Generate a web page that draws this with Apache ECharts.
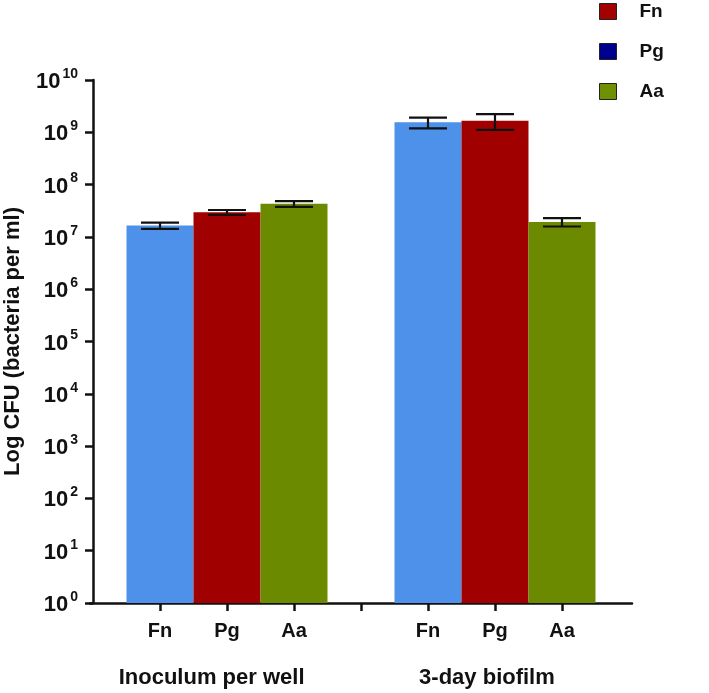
<!DOCTYPE html>
<html>
<head>
<meta charset="utf-8">
<script src="https://cdn.jsdelivr.net/npm/echarts@6/dist/echarts.min.js"></script>
<style>html,body{margin:0;padding:0;background:#fff}#chart{width:709px;height:693px}</style>
</head>
<body>
<div id="chart"></div>
<script>
// ---- data ----
var tickNames = ['Fn', 'Pg', 'Aa', '', 'Fn', 'Pg', 'Aa'];   // x positions 1..7
var groupNames = ['Inoculum per well', '3-day biofilm'];
var seriesNames = ['Fn', 'Pg', 'Aa'];
var fnPos = [1, 5], pgPos = [2, 6], aaPos = [3, 7];
var fnValues = [1.65e7, 1.55e9];
var pgValues = [2.95e7, 1.67e9];
var aaValues = [4.3e7, 1.93e7];
var fnErr = [0.22e7, 0.36e9];
var pgErr = [0.32e7, 0.56e9];
var aaErr = [0.55e7, 0.35e7];

var FONT = 'Liberation Sans, Arial, sans-serif';
var barColors = {Fn: '#4d91ea', Pg: '#a10000', Aa: '#6c8a00'};
var legendColors = {Fn: '#a30000', Pg: '#00008f', Aa: '#6f9000'};

function pairs(pos, vals) { return pos.map(function (p, i) { return [p, vals[i]]; }); }
function errPairs(pos, vals, errs) { return pos.map(function (p, i) { return [p, vals[i] - errs[i], vals[i] + errs[i]]; }); }

var errData = [].concat(errPairs(fnPos, fnValues, fnErr), errPairs(pgPos, pgValues, pgErr), errPairs(aaPos, aaValues, aaErr));

var chart = echarts.init(document.getElementById('chart'), null, {renderer: 'canvas'});
var xMin = -0.045, xMax = 8.045;
var option = {
  backgroundColor: '#fff',
  animation: false,
  textStyle: {fontFamily: FONT},
  grid: {left: 90, top: 80, right: 77, bottom: 90, containLabel: false, outerBoundsMode: 'none'},
  legend: {
    orient: 'vertical', left: 599, top: 2, padding: 0, itemWidth: 17, itemHeight: 16, itemGap: 21,
    icon: 'rect',
    textStyle: {fontSize: 19, fontWeight: 'bold', color: '#111', fontFamily: FONT, padding: [0, 0, 0, 18]},
    data: seriesNames.map(function (n) { return {name: n, itemStyle: {color: legendColors[n], borderColor: '#222', borderWidth: 1}}; })
  },
  xAxis: [{
    type: 'value', min: xMin, max: xMax,
    splitLine: {show: false},
    axisLine: {show: true, lineStyle: {color: '#111', width: 2.5}},
    axisTick: {show: true, length: 8, lineStyle: {color: '#111', width: 2.5}, customValues: [1, 2, 3, 4, 5, 6, 7]},
    axisLabel: {
      customValues: [1, 2, 3, 5, 6, 7], margin: 18, fontSize: 20, fontWeight: 'bold', color: '#111', fontFamily: FONT,
      formatter: function (v) { return tickNames[Math.round(v) - 1] || ''; }
    }
  }, {
    type: 'value', min: xMin, max: xMax, position: 'bottom',
    splitLine: {show: false}, axisLine: {show: false}, axisTick: {show: false},
    axisLabel: {
      customValues: [1.77, 5.88], margin: 64, fontSize: 22, fontWeight: 'bold', color: '#111', fontFamily: FONT,
      formatter: function (v) { return v < 4 ? groupNames[0] : groupNames[1]; }
    }
  }],
  yAxis: {
    type: 'log', logBase: 10, min: 1, max: 1e10, interval: 1,
    name: 'Log CFU (bacteria per ml)', nameLocation: 'middle', nameGap: 66,
    nameTextStyle: {fontSize: 22, fontWeight: 'bold', color: '#111', fontFamily: FONT},
    splitLine: {show: false},
    axisLine: {show: true, lineStyle: {color: '#111', width: 2.5}},
    axisTick: {show: true, length: 8, lineStyle: {color: '#111', width: 2.5}},
    axisLabel: {
      margin: 12, color: '#111', fontFamily: FONT,
      formatter: function (v) { var e = Math.round(Math.log10(v)); return '{b|10}{s|' + e + '}'; },
      rich: {
        b: {fontSize: 22, fontWeight: 'bold', color: '#111', fontFamily: FONT, lineHeight: 26, verticalAlign: 'bottom'},
        s: {fontSize: 14, fontWeight: 'bold', color: '#111', fontFamily: FONT, lineHeight: 14, verticalAlign: 'top', padding: [0, 0, 0, 2]}
      }
    }
  },
  series: [
    {name: 'Fn', type: 'bar', data: pairs(fnPos, fnValues), barWidth: 67, barGap: '-100%', itemStyle: {color: barColors.Fn}},
    {name: 'Pg', type: 'bar', data: pairs(pgPos, pgValues), barWidth: 67, barGap: '-100%', itemStyle: {color: barColors.Pg}},
    {name: 'Aa', type: 'bar', data: pairs(aaPos, aaValues), barWidth: 67, barGap: '-100%', itemStyle: {color: barColors.Aa}},
    {
      name: 'err', type: 'custom', z: 10, data: errData,
      encode: {x: 0, y: [1, 2]},
      renderItem: function (params, api) {
        var x = api.value(0), lo = api.value(1), hi = api.value(2);
        var pLo = api.coord([x, lo]), pHi = api.coord([x, hi]);
        var hw = 19;
        var style = {stroke: '#111', lineWidth: 2.2, fill: null};
        return {type: 'group', children: [
          {type: 'line', shape: {x1: pLo[0], y1: pLo[1], x2: pHi[0], y2: pHi[1]}, style: style},
          {type: 'line', shape: {x1: pHi[0] - hw, y1: pHi[1], x2: pHi[0] + hw, y2: pHi[1]}, style: style},
          {type: 'line', shape: {x1: pLo[0] - hw, y1: pLo[1], x2: pLo[0] + hw, y2: pLo[1]}, style: style}
        ]};
      }
    }
  ]
};
chart.setOption(option);
</script>
</body>
</html>
